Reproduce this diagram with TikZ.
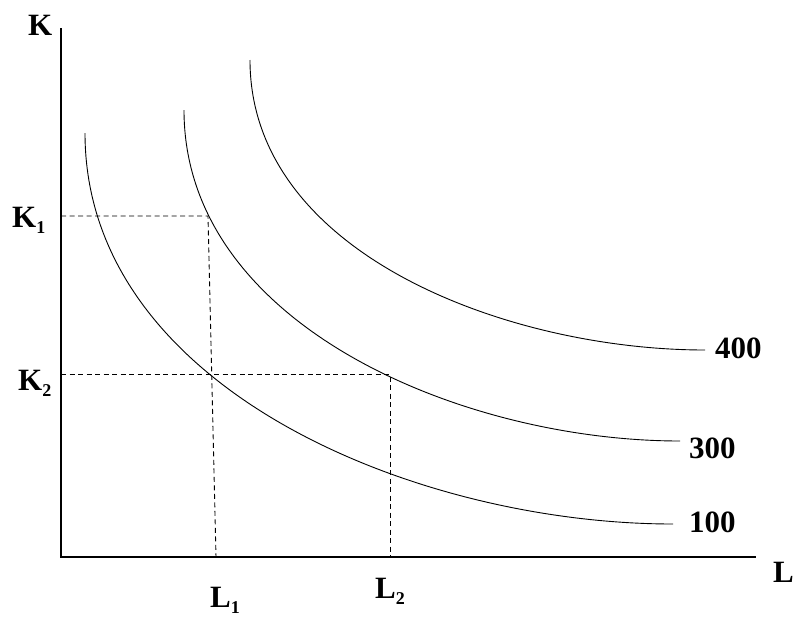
\documentclass[tikz,border=0pt]{standalone}
\usepackage{fontspec}
\setmainfont{Liberation Serif}
\usepackage{tikz}
\tikzset{eaxis/.style={draw,line width=1.1pt}}
\tikzset{ecurve/.style={draw,line width=0.9pt}}
\tikzset{edash/.style={draw,line width=0.9pt,dash pattern=on 5pt off 3.5pt}}
\tikzset{elabel/.style={inner sep=0pt,anchor=base west,font=\fontsize{31}{31}\selectfont\bfseries}}
\newcommand{\lowidx}[1]{\raisebox{-6pt}{\fontsize{18}{18}\selectfont #1}}

\begin{document}
\begin{tikzpicture}[x=1pt,y=-1pt]
  \useasboundingbox (0,0) rectangle (804,622);

  % axes
  \coordinate (O) at (61,557);
  \coordinate (Ktop) at (61,28);
  \coordinate (Lend) at (756,557);
  \draw[eaxis] (Ktop) -- (O) -- (Lend);
  \node[elabel] (K) at (28,35) {K};
  \node[elabel] (L) at (773,582) {L};

  % isoquants
  \draw[ecurve] (85,133) .. controls (85,389) and (417,524) .. (673,524);
  \draw[ecurve] (184,110) .. controls (184,326) and (464,441) .. (680,441);
  \draw[ecurve] (250,60) .. controls (250,255) and (510,350) .. (705,350);
  \node[elabel] (q100) at (689,532) {100};
  \node[elabel] (q300) at (689,458) {300};
  \node[elabel] (q400) at (715,358) {400};

  % input combinations
  \coordinate (A) at (208,216);
  \coordinate (C) at (390,374);
  \draw[edash] (61,216) -- (A) -- (216,557);
  \draw[edash] (61,374) -- (C) -- (390,557);
  \node[elabel] (K1) at (12,227) {K\lowidx{1}};
  \node[elabel] (K2) at (18,390) {K\lowidx{2}};
  \node[elabel] (L1) at (210,607) {L\lowidx{1}};
  \node[elabel] (L2) at (375,598) {L\lowidx{2}};
\end{tikzpicture}
\end{document}
